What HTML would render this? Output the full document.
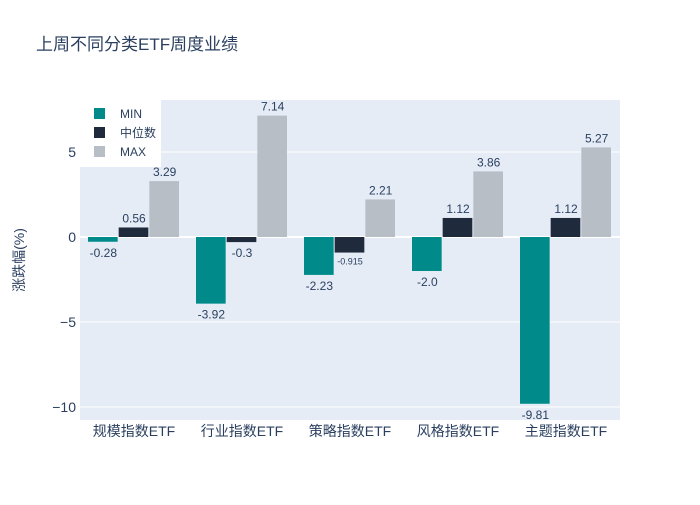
<!DOCTYPE html>
<html><head><meta charset="utf-8"><style>
body{margin:0;background:#fff;font-family:"Liberation Sans","Noto Sans CJK SC",sans-serif}
</style></head><body>
<svg id="chart" width="700" height="500" xmlns="http://www.w3.org/2000/svg" font-family="'Liberation Sans','Noto Sans CJK SC',sans-serif">
<rect width="700" height="500" fill="#fff"/>
<text x="36" y="50" font-size="17" fill="#2a3f5f">上周不同分类ETF周度业绩</text>
<rect x="80" y="100" width="540" height="320" fill="#e5ecf6"/>
<g id="grid"></g><g id="bars"></g><g id="labels"></g>
<text transform="translate(24,260) rotate(-90)" text-anchor="middle" font-size="14" fill="#2a3f5f">涨跌幅(%)</text>
<g>
<rect x="80" y="100" width="81" height="67" fill="#fff"/>
<rect x="94" y="108" width="11" height="11" fill="#008b8a"/>
<text x="120" y="118" font-size="12" fill="#2a3f5f">MIN</text>
<rect x="94" y="127" width="11" height="11" fill="#1f2a3c"/>
<text x="120" y="137" font-size="12" fill="#2a3f5f">中位数</text>
<rect x="94" y="146" width="11" height="11" fill="#b8bec6"/>
<text x="120" y="156" font-size="12" fill="#2a3f5f">MAX</text>
</g>
</svg>
<script>
const categories=["规模指数ETF","行业指数ETF","策略指数ETF","风格指数ETF","主题指数ETF"];
const minVals=[-0.28,-3.92,-2.23,-2.0,-9.81];
const medVals=[0.56,-0.3,-0.915,1.12,1.12];
const maxVals=[3.29,7.14,2.21,3.86,5.27];
const minText=["-0.28","-3.92","-2.23","-2.0","-9.81"];
const medText=["0.56","-0.3","-0.915","1.12","1.12"];
const maxText=["3.29","7.14","2.21","3.86","5.27"];
const yTicks=[-10,-5,0,5];
const tickLabels=["−10","−5","0","5"];
const NS="http://www.w3.org/2000/svg";
const y=v=>237-v*17;
const catW=108,x0=80,groupW=92,bw=groupW/3;
const cx=i=>x0+catW*i+catW/2;
function mk(tag,attrs,parent){const e=document.createElementNS(NS,tag);for(const k in attrs)e.setAttribute(k,attrs[k]);document.getElementById(parent).appendChild(e);return e;}
yTicks.forEach((t,i)=>{
 const l=mk('line',{x1:80,x2:620,y1:y(t),y2:y(t),stroke:'#fff','stroke-width':t===0?2:1},'grid');
 
 
 const tx=mk('text',{x:76,y:y(t)+5,'text-anchor':'end','font-size':14,fill:'#2a3f5f'},'grid');
 tx.textContent=tickLabels[i];
 
 
});
categories.forEach((c,i)=>{
 const tx=mk('text',{x:cx(i),y:436,'text-anchor':'middle','font-size':14,fill:'#2a3f5f'},'labels');
 tx.textContent=c;
 
 
});
const series=[[minVals,minText,'#008b8a','min'],[medVals,medText,'#1f2a3c','median'],[maxVals,maxText,'#b8bec6','max']];
series.forEach(([vals,txts,col,nm],s)=>{
 vals.forEach((v,i)=>{
  const bx=cx(i)-groupW/2+s*bw;
  const top=Math.min(y(v),y(0)),h=Math.abs(y(v)-y(0));
  const r=mk('rect',{x:bx,y:top,width:bw-1,height:Math.max(h,0.5),fill:col},'bars');
  
  
  const label=txts[i];
  const small=label.length>5;
  const fs=small?9:12;
  const ly=v>=0?y(v)-5:y(v)+fs+3;
  const t=mk('text',{x:bx+bw/2,y:ly,'text-anchor':'middle','font-size':fs,fill:'#2a3f5f'},'labels');
  t.textContent=label;
  
  
 });
});
</script>
</body></html>
